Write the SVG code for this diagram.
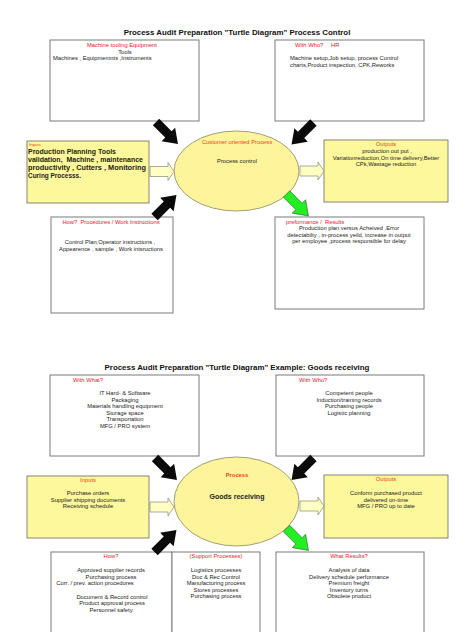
<svg xmlns="http://www.w3.org/2000/svg" width="474" height="632" viewBox="0 0 474 632">
<defs>
<style>
text{font-family:"Liberation Sans",Arial,sans-serif;font-size:5.8px;fill:#222}
.t{font-size:7.9px;font-weight:bold;text-anchor:middle;fill:#111}
.r{fill:#e0182e}
.o{fill:#e84a10}
.c{text-anchor:middle}
.b{fill:#fff;stroke:#7a7a7a;stroke-width:1}
.y{fill:#fdf89c;stroke:#666;stroke-width:0.8}
.e{fill:#fdf49c;stroke:#8a8660;stroke-width:0.8}
.ha{fill:#ffffc4;stroke:#8a8a6a;stroke-width:0.7}
.ba{fill:#0a0a0a}
.ga{fill:#22ee22;stroke:#333;stroke-width:0.5}
.bold{font-weight:bold;font-size:6.9px;fill:#1e1e10}
</style>
<path id="blk" d="M-15.5,-4.5 L2,-4.5 L2,-9.5 L15.5,0 L2,9.5 L2,4.5 L-15.5,4.5 Z"/>
<path id="hol" d="M0,-5 L18,-5 L18,-9 L24,0 L18,9 L18,5 L0,5 Z"/>
</defs>
<rect width="474" height="632" fill="#fff"/>

<!-- ===== Diagram 1 ===== -->
<text class="t" x="237" y="35">Process Audit Preparation "Turtle Diagram" Process Control</text>

<g id="d1-with-what">
<rect class="b" x="50" y="40" width="149" height="81"/>
<text class="r c" x="122" y="47">Machine tooling Equipment</text>
<text class="c" x="125" y="53.5">Tools</text>
<text x="53" y="60">Machines , Equipmemnts ,Instruments</text>
</g>

<g id="d1-with-who">
<rect class="b" x="275" y="40" width="149" height="81"/>
<text class="r" x="295" y="47">With Who?</text>
<text class="r" x="331" y="47">HR</text>
<text x="290" y="60">Machine setup,Job setup, process Control</text>
<text x="290" y="67">charts,Product inspection, CPK,Reworks</text>
</g>

<g id="d1-inputs">
<rect class="y" x="27" y="141" width="122" height="62"/>
<text class="o" x="29" y="146" style="font-size:4.4px">Inputs</text>
<text class="bold" x="28" y="154" textLength="88" lengthAdjust="spacingAndGlyphs">Production Planning Tools</text>
<text class="bold" x="28" y="162" textLength="115" lengthAdjust="spacingAndGlyphs" xml:space="preserve">validation,  Machine , maintenance</text>
<text class="bold" x="28" y="170" textLength="118" lengthAdjust="spacingAndGlyphs">productivity , Cutters , Monitoring</text>
<text class="bold" x="28" y="178" textLength="53" lengthAdjust="spacingAndGlyphs">Curing Processs.</text>
</g>

<g id="d1-process">
<ellipse class="e" cx="236.5" cy="171" rx="62.5" ry="40"/>
<text class="o c" x="237" y="143.5">Customer oriented Process</text>
<text class="c" x="237" y="163">Process control</text>
</g>

<g id="d1-outputs">
<rect class="y" x="324" y="140" width="124" height="62"/>
<text class="o c" x="386" y="146">Outputs</text>
<text class="c" x="387" y="153">production out put ,</text>
<text class="c" x="386" y="159.5">Variationreduction,On time delivery,Better</text>
<text class="c" x="386" y="166">CPk,Wastage reduction</text>
</g>

<g id="d1-how">
<rect class="b" x="51" y="217" width="122" height="96"/>
<text class="r c" x="111" y="224" xml:space="preserve">How?  Procedures / Work Instructions</text>
<text class="c" x="110" y="244">Control Plan,Operator instructions ,</text>
<text class="c" x="111" y="250.5">Appearence , sample , Work intsructions</text>
</g>

<g id="d1-results">
<rect class="b" x="275" y="217" width="149" height="92"/>
<text class="r" x="286" y="224" xml:space="preserve">preformance /  Results</text>
<text class="c" x="349" y="230">Production plan versus Acheived ,Error</text>
<text class="c" x="349" y="236.5">detectabilty , in-process yeild, increase in output</text>
<text class="c" x="349" y="243">per employee ,process responsible for delay</text>
</g>

<!-- ===== Diagram 2 ===== -->
<text class="t" x="237" y="370">Process Audit Preparation "Turtle Diagram" Example: Goods receiving</text>

<g id="d2-with-what">
<rect class="b" x="50" y="375" width="149" height="81"/>
<text class="r" x="73" y="382">With What?</text>
<text class="c" x="125" y="395">IT Hard- &amp; Software</text>
<text class="c" x="125" y="401.5">Packaging</text>
<text class="c" x="125" y="408">Materials handling equipment</text>
<text class="c" x="125" y="414.5">Storage space</text>
<text class="c" x="125" y="421">Transportation</text>
<text class="c" x="125" y="427.5">MFG / PRO system</text>
</g>

<g id="d2-with-who">
<rect class="b" x="276" y="375" width="148" height="81"/>
<text class="r" x="299" y="382">With Who?</text>
<text class="c" x="349" y="395">Competent people</text>
<text class="c" x="349" y="401.5">Induction/training records</text>
<text class="c" x="349" y="408">Purchasing people</text>
<text class="c" x="349" y="414.5">Logistic planning</text>
</g>

<g id="d2-inputs">
<rect class="y" x="27" y="476" width="122" height="62"/>
<text class="o c" x="88" y="482">Inputs</text>
<text class="c" x="88" y="495">Purchase orders</text>
<text class="c" x="88" y="501.5">Supplier shipping documents</text>
<text class="c" x="88" y="508">Receiving schedule</text>
</g>

<g id="d2-process">
<ellipse class="e" cx="236.5" cy="501.5" rx="62.5" ry="44.5"/>
<text class="o c" x="237" y="477" style="font-weight:bold">Process</text>
<text class="c" x="237" y="498.5" style="font-weight:bold;font-size:7px">Goods receiving</text>
</g>

<g id="d2-outputs">
<rect class="y" x="324" y="475" width="124" height="63"/>
<text class="o c" x="386" y="481">Outputs</text>
<text class="c" x="386" y="495">Conform purchased product</text>
<text class="c" x="386" y="501.5">delivered on-time</text>
<text class="c" x="386" y="508">MFG / PRO up to date</text>
</g>

<g id="d2-how">
<rect class="b" x="51" y="552" width="121" height="90"/>
<text class="r c" x="111" y="558">How?</text>
<text class="c" x="111" y="572">Approved supplier records</text>
<text class="c" x="111" y="578.5">Purchasing process</text>
<text class="c" x="95" y="585">Corr. / prev. action procedures</text>
<text class="c" x="112" y="598.5">Document &amp; Record control</text>
<text class="c" x="112" y="605">Product approval process</text>
<text class="c" x="111" y="611.5">Personnel safety</text>
</g>

<g id="d2-support">
<rect class="b" x="172" y="552" width="88" height="90"/>
<text class="r c" x="216" y="558">(Support Processes)</text>
<text class="c" x="216" y="572">Logistics processes</text>
<text class="c" x="216" y="578.5">Doc &amp; Rec Control</text>
<text class="c" x="216" y="585">Manufacturing process</text>
<text class="c" x="216" y="591.5">Stores processes</text>
<text class="c" x="216" y="598">Purchasing process</text>
</g>

<g id="d2-results">
<rect class="b" x="276" y="552" width="148" height="90"/>
<text class="r c" x="349" y="558">What Results?</text>
<text class="c" x="349" y="572">Analysis of data</text>
<text class="c" x="349" y="578.5">Delivery schedule performance</text>
<text class="c" x="349" y="585">Premium freight</text>
<text class="c" x="349" y="591.5">Inventory turns</text>
<text class="c" x="349" y="598">Obsolete product</text>
</g>

<!-- ===== Connectors ===== -->
<g id="connectors">
<use href="#blk" class="ba" transform="translate(167,133) rotate(45)"/>
<use href="#blk" class="ba" transform="translate(302.5,133.5) rotate(135)"/>
<use href="#blk" class="ba" transform="translate(165.5,206) rotate(-45)"/>
<use href="#blk" class="ga" transform="translate(297.5,205) rotate(45)"/>
<use href="#hol" class="ha" transform="translate(150,171.5)"/>
<use href="#hol" class="ha" transform="translate(300,171)"/>

<use href="#blk" class="ba" transform="translate(166,469) rotate(45)"/>
<use href="#blk" class="ba" transform="translate(302.5,469) rotate(135)"/>
<use href="#blk" class="ba" transform="translate(165.5,541) rotate(-45)"/>
<use href="#blk" class="ga" transform="translate(297.5,539.5) rotate(45)"/>
<use href="#hol" class="ha" transform="translate(150,507)"/>
<use href="#hol" class="ha" transform="translate(300,506)"/>
</g>
</svg>
